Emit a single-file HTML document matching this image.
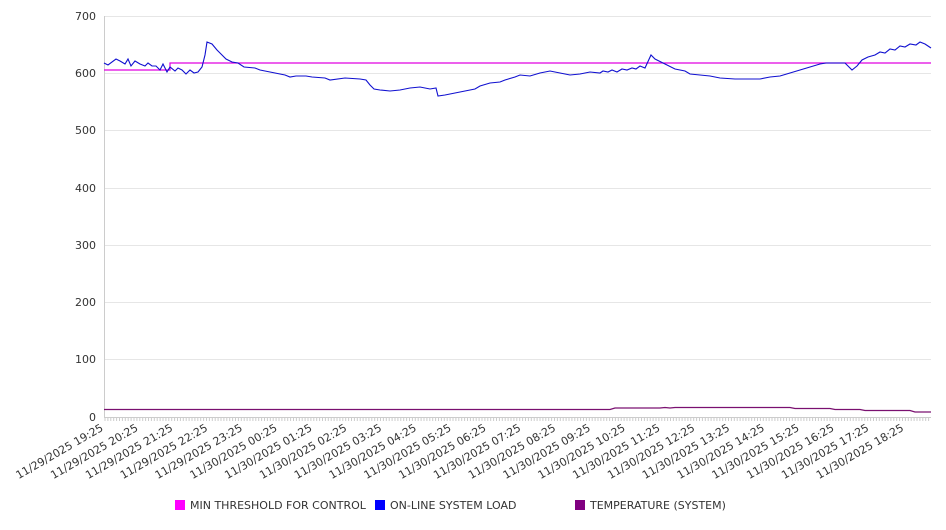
<!DOCTYPE html>
<html><head><meta charset="utf-8"><style>
body{margin:0;background:#fff;width:946px;height:526px;overflow:hidden;font-family:"DejaVu Sans","Liberation Sans",sans-serif;}
</style></head><body>
<svg width="946" height="526" xmlns="http://www.w3.org/2000/svg" font-family="DejaVu Sans, Liberation Sans, sans-serif" font-size="11" fill="#333">
<g stroke="#e6e6e6" stroke-width="1">
<line x1="104" x2="931" y1="16.5" y2="16.5"/><line x1="104" x2="931" y1="73.5" y2="73.5"/>
<line x1="104" x2="931" y1="130.5" y2="130.5"/><line x1="104" x2="931" y1="188.5" y2="188.5"/>
<line x1="104" x2="931" y1="245.5" y2="245.5"/><line x1="104" x2="931" y1="302.5" y2="302.5"/>
<line x1="104" x2="931" y1="359.5" y2="359.5"/>
</g>
<line x1="104.5" x2="104.5" y1="16" y2="417" stroke="#ccc"/>
<line x1="104" x2="931" y1="417.5" y2="417.5" stroke="#ccc"/>
<g text-anchor="end">
<text x="96" y="20">700</text><text x="96" y="77">600</text><text x="96" y="134">500</text>
<text x="96" y="192">400</text><text x="96" y="249">300</text><text x="96" y="306">200</text>
<text x="96" y="363">100</text><text x="96" y="421">0</text>
</g>
<g id="tk" stroke="#ccc"></g>
<polyline fill="none" stroke="#e000e0" stroke-width="1.2" points="104,70 170,70 170,63 931,63"/>
<polyline fill="none" stroke="#1010d0" stroke-width="1.1" points="104,63 108,65 116,59 120,61 125,64 128,59 131,66 135,61 140,64 145,66 148,63 152,66 156,66 160,70 163,64 167,72 170,67 175,71 178,68 182,70 186,74 190,70 194,73 198,72 202,67 205,55 207,42 212,44 217,50 222,55 226,59 232,62 238,63 244,67 255,68 260,70 270,72 285,75 290,77 296,76 306,76 312,77 325,78 330,80 345,78 360,79 366,80 370,85 374,89 380,90 390,91 400,90 410,88 420,87 430,89 436,88 438,96 445,95 455,93 465,91 475,89 480,86 490,83 500,82 505,80 515,77 520,75 530,76 540,73 550,71 560,73 570,75 580,74 590,72 600,73 603,71 608,72 612,70 617,72 622,69 627,70 632,68 636,69 640,66 645,68 651,55 655,59 665,64 675,69 685,71 690,74 700,75 710,76 720,78 735,79 745,79 760,79 770,77 780,76 790,73 800,70 810,67 820,64 826,63 835,63 845,63 849,67 852,70 857,66 862,60 868,57 875,55 880,52 885,53 890,49 895,50 900,46 905,47 910,44 916,45 920,42 925,44 931,48"/>
<polyline fill="none" stroke="#7a1070" stroke-width="1.3" points="104,409.5 610,409.5 615,408 660,408 665,407.5 670,408 675,407.5 790,407.5 795,408.5 830,408.5 835,409.5 860,409.5 865,410.5 910,410.5 915,412 931,412"/>
<g font-size="11" text-anchor="end" fill="#333">
<text transform="translate(104,430) rotate(-30)">11/29/2025 19:25</text>
<text transform="translate(138.8,430) rotate(-30)">11/29/2025 20:25</text>
<text transform="translate(173.6,430) rotate(-30)">11/29/2025 21:25</text>
<text transform="translate(208.4,430) rotate(-30)">11/29/2025 22:25</text>
<text transform="translate(243.2,430) rotate(-30)">11/29/2025 23:25</text>
<text transform="translate(278,430) rotate(-30)">11/30/2025 00:25</text>
<text transform="translate(312.8,430) rotate(-30)">11/30/2025 01:25</text>
<text transform="translate(347.6,430) rotate(-30)">11/30/2025 02:25</text>
<text transform="translate(382.4,430) rotate(-30)">11/30/2025 03:25</text>
<text transform="translate(417.2,430) rotate(-30)">11/30/2025 04:25</text>
<text transform="translate(452,430) rotate(-30)">11/30/2025 05:25</text>
<text transform="translate(486.8,430) rotate(-30)">11/30/2025 06:25</text>
<text transform="translate(521.6,430) rotate(-30)">11/30/2025 07:25</text>
<text transform="translate(556.4,430) rotate(-30)">11/30/2025 08:25</text>
<text transform="translate(591.2,430) rotate(-30)">11/30/2025 09:25</text>
<text transform="translate(626,430) rotate(-30)">11/30/2025 10:25</text>
<text transform="translate(660.8,430) rotate(-30)">11/30/2025 11:25</text>
<text transform="translate(695.6,430) rotate(-30)">11/30/2025 12:25</text>
<text transform="translate(730.4,430) rotate(-30)">11/30/2025 13:25</text>
<text transform="translate(765.2,430) rotate(-30)">11/30/2025 14:25</text>
<text transform="translate(800,430) rotate(-30)">11/30/2025 15:25</text>
<text transform="translate(834.8,430) rotate(-30)">11/30/2025 16:25</text>
<text transform="translate(869.6,430) rotate(-30)">11/30/2025 17:25</text>
<text transform="translate(904.4,430) rotate(-30)">11/30/2025 18:25</text>
</g>
<rect x="175" y="500" width="10" height="10" fill="#ff00ff"/>
<text x="190" y="509">MIN THRESHOLD FOR CONTROL</text>
<rect x="375" y="500" width="10" height="10" fill="#0000ff"/>
<text x="390" y="509">ON-LINE SYSTEM LOAD</text>
<rect x="575" y="500" width="10" height="10" fill="#800080"/>
<text x="590" y="509">TEMPERATURE (SYSTEM)</text>
</svg>
<script>
var g=document.getElementById('tk'),s='';
for(var x=105;x<=931;x+=2.9){s+='<line x1="'+x.toFixed(1)+'" x2="'+x.toFixed(1)+'" y1="418" y2="421"/>';}
g.innerHTML=s;
</script>
</body></html>
